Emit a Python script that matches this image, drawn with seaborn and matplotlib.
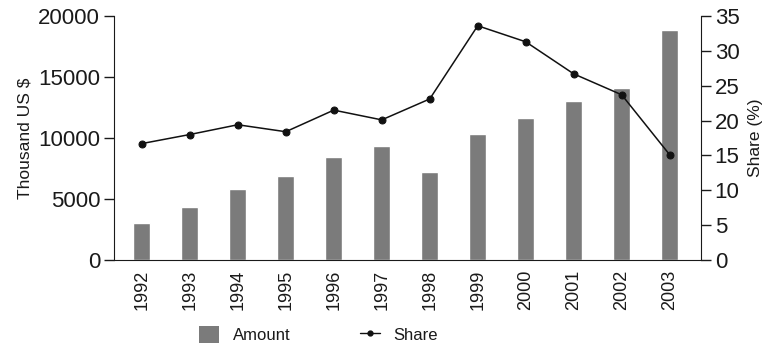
import pandas as pd
import seaborn as sns
import numpy as np
import matplotlib.pyplot as plt
from matplotlib.patches import Patch
from matplotlib.lines import Line2D

years = ['1992', '1993', '1994', '1995', '1996', '1997',
         '1998', '1999', '2000', '2001', '2002', '2003']
amount = [3050, 4370, 5790, 6910, 8440, 9370, 7240, 10350, 11660, 13030, 14120, 18830]
share = [16.7, 18.0, 19.4, 18.4, 21.5, 20.1, 23.1, 33.6, 31.3, 26.7, 23.7, 15.1]

df = pd.DataFrame({'Year': years, 'Amount': amount, 'Share': share})
df['pos'] = np.arange(len(df))

sns.set_style('ticks', {'axes.edgecolor': '#1a1a1a', 'text.color': '#1a1a1a',
                        'xtick.color': '#1a1a1a', 'ytick.color': '#1a1a1a',
                        'axes.labelcolor': '#1a1a1a'})
plt.rcParams['font.family'] = ['Liberation Sans', 'DejaVu Sans']

fig = plt.figure(figsize=(7.77, 3.47), dpi=100)
ax = fig.add_axes([0.1467, 0.2507, 0.7553, 0.7032])

bar_col = '#7b7b7b'
sns.barplot(data=df, x='Year', y='Amount', color=bar_col, width=0.35,
            saturation=1, ax=ax)
ax.set_ylim(0, 20000)
ax.set_xlim(-0.58, 11.65)
ax.set_yticks(np.arange(0, 20001, 5000))
ax.set_xlabel('')
ax.set_ylabel('Thousand US $', fontsize=12.5, labelpad=4)
ax.tick_params(axis='y', labelsize=16, length=7, width=1, pad=3, direction='out')
ax.tick_params(axis='x', labelsize=13, length=0, pad=7, rotation=90)
for s in ['top', 'right']:
    ax.spines[s].set_visible(False)

ax2 = ax.twinx()
sns.lineplot(data=df, x='pos', y='Share', color='#111111', linewidth=1.1,
             marker='o', markersize=5, markeredgecolor='#111111', ax=ax2)
ax2.set_ylim(0, 35)
ax2.set_yticks(np.arange(0, 36, 5))
ax2.set_ylabel('Share (%)', fontsize=12.5, labelpad=6)
ax2.set_xlabel('')
ax2.tick_params(axis='y', labelsize=16, length=7, width=1, pad=3, direction='out')
for s in ['top', 'left', 'bottom']:
    ax2.spines[s].set_visible(False)

handles = [Patch(facecolor=bar_col, edgecolor='none'),
           Line2D([0], [0], color='#111111', linewidth=1, marker='o', markersize=3.5)]
fig.legend(handles, ['Amount', 'Share'], loc='center', bbox_to_anchor=(0.41, 0.035),
           ncol=2, frameon=False, fontsize=12, handlelength=1.2, handleheight=1.2,
           columnspacing=4.2, handletextpad=0.8)

fig.savefig('out.png', dpi=100)
